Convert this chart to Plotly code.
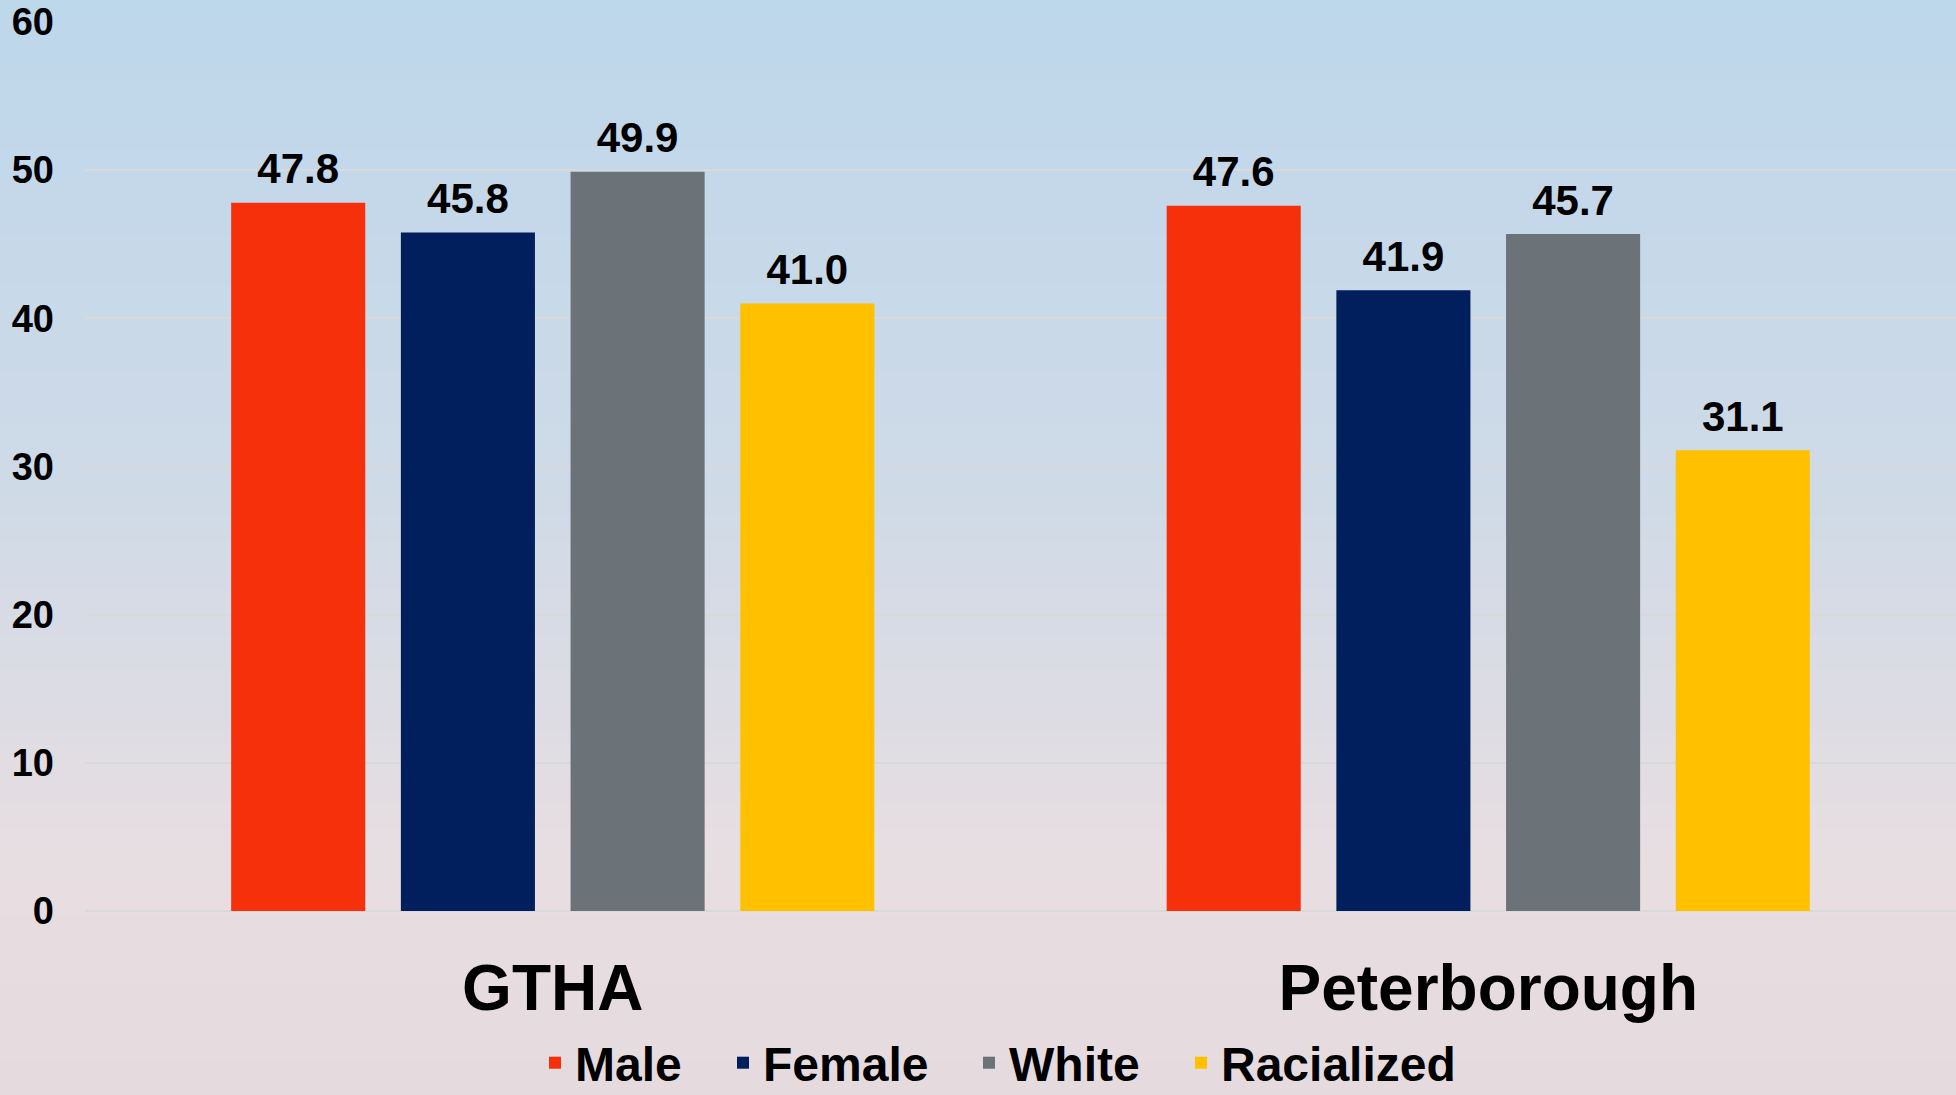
import plotly.graph_objects as go

categories = ["GTHA", "Peterborough"]
series_names = ["Male", "Female", "White", "Racialized"]
male = [47.8, 47.6]
female = [45.8, 41.9]
white = [49.9, 45.7]
racialized = [41.0, 31.1]
series_values = [male, female, white, racialized]
series_colors = ["#F5300A", "#001F5C", "#6B7278", "#FFC000"]
y_ticks = [0, 10, 20, 30, 40, 50, 60]

FONT = "Arial, 'Liberation Sans', sans-serif"
W, H = 1956, 1095
ML, MR, MT, MB = 85, 0, 22, 184
ph = H - MT - MB
pw = W - ML - MR

# left edge (px) of each legend entry's text, one legend per series
legend_text_px = [576, 764, 1010, 1222]
legend_ids = ["legend", "legend2", "legend3", "legend4"]

fig = go.Figure()
for name, vals, col, lid in zip(series_names, series_values, series_colors, legend_ids):
    fig.add_trace(go.Bar(
        name=name, x=categories, y=vals,
        marker=dict(color=col, line=dict(width=0)),
        text=[f"{v:.1f}" for v in vals],
        texttemplate="<span style='font-size:42px'>%{text}</span><br> ",
        textposition="outside",
        textfont=dict(family=FONT, size=11, color="black", weight="bold"),
        cliponaxis=False,
        legend=lid,
    ))

# background vertical gradient (decoration only)
stops = [(0.0, (189, 215, 235)), (0.45, (207, 218, 231)), (0.8, (232, 222, 225)), (1.0, (229, 219, 223))]
def col_at(t):
    for (t0, c0), (t1, c1) in zip(stops[:-1], stops[1:]):
        if t0 <= t <= t1:
            f = (t - t0) / (t1 - t0)
            return "rgb(%d,%d,%d)" % tuple(round(a + (b - a) * f) for a, b in zip(c0, c1))
    return "rgb(%d,%d,%d)" % stops[-1][1]

n = 219
shapes = []
for i in range(n):
    top_px = i * H / n
    bot_px = (i + 1) * H / n + 0.6
    shapes.append(dict(
        type="rect", xref="paper", yref="paper", layer="below",
        x0=-ML / pw - 0.01, x1=1 + MR / pw + 0.01,
        y0=1 - (bot_px - MT) / ph, y1=1 - (top_px - MT) / ph,
        fillcolor=col_at((i + 0.5) / n), line=dict(width=0),
    ))

legend_common = dict(
    orientation="h", xref="container", yref="paper",
    xanchor="left", y=-(H - MT - ph + 6) / ph, yanchor="bottom",
    font=dict(family=FONT, size=48, color="black", weight="bold"),
    bgcolor="rgba(0,0,0,0)", itemclick=False, itemdoubleclick=False,
)
legends = {}
for lid, tx in zip(legend_ids, legend_text_px):
    legends[lid] = dict(legend_common, x=(tx - 41) / W)

fig.update_layout(
    width=W, height=H,
    margin=dict(l=ML, r=MR, t=MT, b=MB, autoexpand=False),
    paper_bgcolor="rgba(0,0,0,0)", plot_bgcolor="rgba(0,0,0,0)",
    barmode="group", bargap=0.2744, bargroupgap=0.21,
    font=dict(family=FONT, color="black"),
    shapes=shapes,
    showlegend=True,
    xaxis=dict(
        showgrid=False, showline=False, zeroline=False, ticks="",
        tickfont=dict(family=FONT, size=64, color="black", weight="bold"),
        ticklabelstandoff=34, automargin=False,
    ),
    yaxis=dict(
        range=[0, 60], tickvals=y_ticks, showgrid=True, gridcolor="#D9D9D9", gridwidth=2,
        zeroline=True, zerolinecolor="#D9D9D9", zerolinewidth=2, showline=False, ticks="",
        tickfont=dict(family=FONT, size=38, color="black", weight="bold"),
        ticklabelstandoff=30, automargin=False,
    ),
    **legends,
)

fig.write_html(
    "out.html",
    config={"displayModeBar": False},
    post_script="document.body.style.margin='0';document.body.style.padding='0';document.body.style.overflow='hidden';",
)
